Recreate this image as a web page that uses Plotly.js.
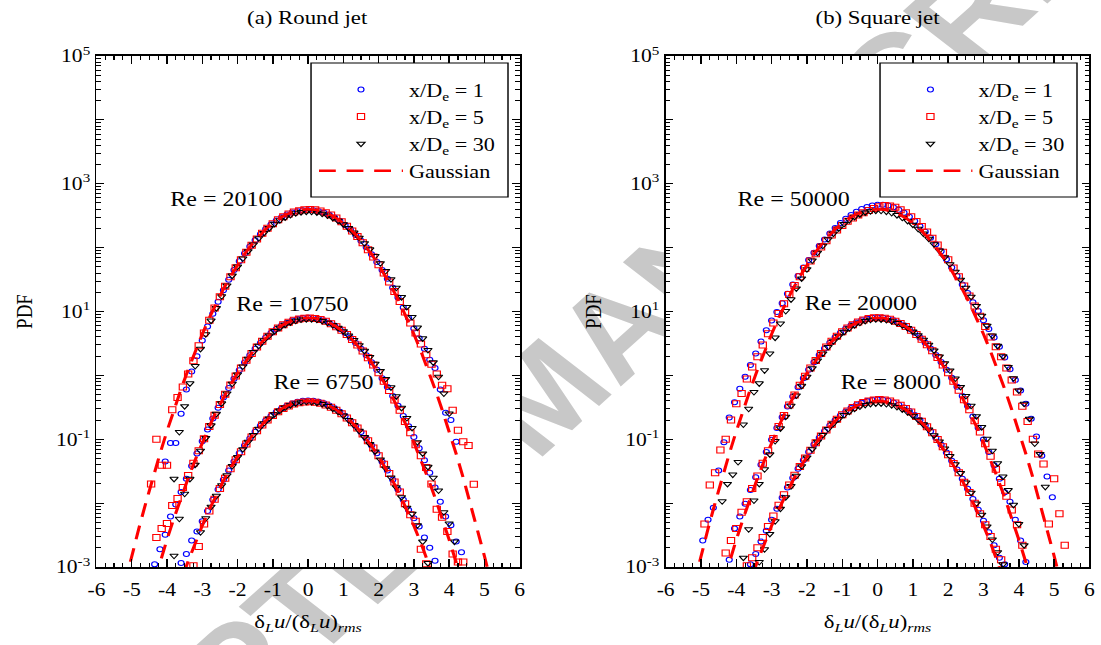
<!DOCTYPE html>
<html>
<head>
<meta charset="utf-8">
<script src="https://cdn.plot.ly/plotly-3.0.1.min.js"></script>
<style>
html, body { margin: 0; padding: 0; background: #fff; overflow: hidden; }
#wrap { position: relative; width: 918px; height: 645px; transform: scaleX(1.19935); transform-origin: 0 0; }
#mark { position: absolute; left: 453px; top: 395px; z-index: 0; white-space: nowrap;
        font: bold 121px "Liberation Sans", Arial, sans-serif; line-height: 1; color: #c8c8c8;
        transform: translate(-50%, -50%) rotate(-47.1deg); }
#chart { position: absolute; left: 0; top: 0; width: 918px; height: 645px; z-index: 1; }
</style>
</head>
<body>
<div id="wrap">
<div id="mark">ACCEPTED MANUSCRIPT</div>
<div id="chart"></div>
</div>
<script>
const _ = null;

// Bin centres of the increment histograms (one set per measurement station)
const bins1 = [-4.95,-4.8,-4.65,-4.5,-4.35,-4.2,-4.05,-3.9,-3.75,-3.6,-3.45,-3.3,-3.15,-3.0,-2.85,-2.7,-2.55,-2.4,-2.25,-2.1,-1.95,-1.8,-1.65,-1.5,-1.35,-1.2,-1.05,-0.9,-0.75,-0.6,-0.45,-0.3,-0.15,0,0.15,0.3,0.45,0.6,0.75,0.9,1.05,1.2,1.35,1.5,1.65,1.8,1.95,2.1,2.25,2.4,2.55,2.7,2.85,3.0,3.15,3.3,3.45,3.6,3.75,3.9,4.05,4.2,4.35,4.5,4.65,4.8,4.95,5.1,5.25,5.4,5.55];
const bins5 = [-4.9,-4.75,-4.6,-4.45,-4.3,-4.15,-4.0,-3.85,-3.7,-3.55,-3.4,-3.25,-3.1,-2.95,-2.8,-2.65,-2.5,-2.35,-2.2,-2.05,-1.9,-1.75,-1.6,-1.45,-1.3,-1.15,-1.0,-0.85,-0.7,-0.55,-0.4,-0.25,-0.1,0.05,0.2,0.35,0.5,0.65,0.8,0.95,1.1,1.25,1.4,1.55,1.7,1.85,2.0,2.15,2.3,2.45,2.6,2.75,2.9,3.05,3.2,3.35,3.5,3.65,3.8,3.95,4.1,4.25,4.4,4.55,4.7,4.85,5.0,5.15,5.3,5.45,5.6];
const bins30 = [-4.85,-4.7,-4.55,-4.4,-4.25,-4.1,-3.95,-3.8,-3.65,-3.5,-3.35,-3.2,-3.05,-2.9,-2.75,-2.6,-2.45,-2.3,-2.15,-2.0,-1.85,-1.7,-1.55,-1.4,-1.25,-1.1,-0.95,-0.8,-0.65,-0.5,-0.35,-0.2,-0.05,0.1,0.25,0.4,0.55,0.7,0.85,1.0,1.15,1.3,1.45,1.6,1.75,1.9,2.05,2.2,2.35,2.5,2.65,2.8,2.95,3.1,3.25,3.4,3.55,3.7,3.85,4.0,4.15,4.3,4.45,4.6,4.75,4.9,5.05,5.2,5.35,5.5,5.65];

// (a) Round jet, Re = 6750 (unshifted)
const pdfA_6750_1 = [_,_,_,_,_,_,_,_,_,
 0.00115,0.0016,0.0026,0.0036,0.0052,0.0075,0.0113,0.0163,0.0232,0.0324,
 0.0448,0.0605,0.0800,0.103,0.131,0.162,0.196,0.232,0.268,0.303,
 0.336,0.364,0.386,0.400,0.405,0.401,0.387,0.366,0.338,0.305,
 0.269,0.232,0.195,0.161,0.130,0.103,0.0797,0.0603,0.0446,0.0324,
 0.0232,0.0163,0.0113,0.0078,0.0058,0.0043,0.0029,0.0020,0.00125,
 _,_,_,_,_,_,_,_,_,_,_,_,_];
const pdfA_6750_5 = [_,_,_,_,_,_,_,_,_,_,_,
 0.00105,0.0021,0.0047,0.0075,0.0115,0.0170,0.0245,0.0345,0.0478,0.0640,
 0.0840,0.108,0.136,0.167,0.200,0.236,0.270,0.303,0.332,0.356,
 0.373,0.383,0.385,0.379,0.365,0.344,0.317,0.285,0.251,0.216,
 0.182,0.150,0.121,0.0950,0.0730,0.0550,0.0405,0.0292,0.0215,0.0150,
 0.0098,0.0066,0.0052,0.0019,0.00112,
 _,_,_,_,_,_,_,_,_,_,_,_,_,_,_];
const pdfA_6750_30 = [_,_,_,_,_,_,_,_,_,_,_,_,
 0.0035,0.0058,0.0088,0.0130,0.0190,0.0272,0.0382,0.0525,0.0700,0.0915,
 0.117,0.146,0.178,0.212,0.247,0.281,0.314,0.342,0.364,0.379,
 0.386,0.384,0.374,0.356,0.332,0.302,0.269,0.235,0.200,0.167,
 0.136,0.108,0.0845,0.0645,0.0482,0.0352,0.0252,0.0178,0.0124,0.0085,
 0.0068,0.0045,0.0025,0.00115,
 _,_,_,_,_,_,_,_,_,_,_,_,_,_,_];

// (a) Round jet, Re = 10750 (shifted by 20)
const pdfA_10750_1 = [_,_,_,_,
 0.0011,0.0019,0.0032,0.0062,0.0095,0.0150,0.024,0.038,0.060,0.093,
 0.142,0.212,0.310,0.450,0.635,0.885,1.20,1.59,2.06,2.60,
 3.22,3.90,4.62,5.34,6.04,6.68,7.22,7.64,7.90,7.98,
 7.90,7.63,7.20,6.65,6.01,5.31,4.60,3.89,3.22,2.61,
 2.07,1.61,1.22,0.905,0.66,0.475,0.335,0.232,0.160,0.108,
 0.072,0.047,0.030,0.0175,0.0105,0.0062,0.0045,0.0025,0.0017,
 _,_,_,_,_,_,_,_];
const pdfA_10750_5 = [_,_,_,_,
 0.0029,0.0040,0.0048,0.0092,0.0118,0.0175,0.0270,0.0420,0.066,0.102,
 0.158,0.238,0.350,0.505,0.71,0.98,1.31,1.72,2.21,2.78,
 3.42,4.10,4.82,5.53,6.20,6.80,7.30,7.66,7.86,7.92,
 7.80,7.48,7.02,6.44,5.78,5.08,4.36,3.66,3.00,2.41,
 1.89,1.46,1.10,0.81,0.58,0.41,0.285,0.190,0.126,0.082,
 0.055,0.036,0.0200,0.0080,0.0060,0.0036,0.0016,0.0012,0.0012,
 _,_,_,_,_,_,_,_];
const pdfA_10750_30 = [_,_,_,_,_,_,_,
 0.0015,0.0057,0.0140,0.024,0.040,0.066,0.105,0.165,0.250,0.365,
 0.52,0.74,1.03,1.38,1.82,2.32,2.90,3.55,4.22,4.93,
 5.60,6.22,6.75,7.18,7.48,7.60,7.58,7.42,7.10,6.68,
 6.15,5.55,4.90,4.22,3.58,2.97,2.42,1.94,1.52,1.17,
 0.88,0.65,0.47,0.31,0.215,0.150,0.090,0.060,0.037,0.025,
 0.0158,0.0072,0.0048,0.0025,
 _,_,_,_,_,_,_,_,_,_];

// (a) Round jet, Re = 20100 (shifted by 1000)
const pdfA_20100_1 = [_,_,_,_,_,_,
 0.045,0.087,0.087,0.25,0.60,1.15,2.0,3.5,5.8,9.2,
 14.2,21.5,31.5,44.5,61,81,104,131,162,196,
 231,266,299,329,354,372,383,386,383,372,
 353,327,297,263,227,192,158,128,101,78.5,
 59.5,44.5,32.5,23.5,16.5,11.5,7.9,5.4,3.8,2.6,
 1.75,1.3,0.6,0.26,0.20,0.091,
 _,_,_,_,_,_,_,_,_];
const pdfA_20100_5 = [_,_,_,
 0.020,0.100,0.039,0.039,0.29,0.45,0.66,1.05,1.7,2.9,
 4.6,7.3,11.3,17.0,24.8,35.0,48.5,64.5,85,109,
 137,168,201,237,272,305,335,360,378,390,
 395,390,376,353,324,290,254,217,182,149,
 119,93,71.5,54,40,29,20.5,14.3,9.8,6.6,
 4.6,3.1,2.1,1.5,1.05,0.70,0.62,0.285,0.138,0.091,
 0.080,0.0197,
 _,_,_,_,_,_];
const pdfA_20100_30 = [_,_,_,_,_,_,_,
 0.024,0.13,0.33,0.75,1.4,2.6,4.4,7.2,11.3,17.3,
 25.5,36.5,50.5,67.5,88,112,140,170,202,236,
 268,298,325,346,360,366,364,356,340,318,
 292,263,233,202,172,143,117,94,74,57,
 43,32,23.5,16.8,11.8,8.2,5.6,3.8,2.5,1.6,
 0.95,0.52,0.253,
 _,_,_,_,_,_,_,_,_,_,_];

// (b) Square jet, Re = 8000 (unshifted)
const pdfB_8000_1 = [_,_,_,_,_,_,_,_,_,
 0.0011,0.0016,0.0025,0.0037,0.0055,0.0082,0.0121,0.0175,0.0248,0.0345,
 0.0470,0.0630,0.0825,0.106,0.133,0.164,0.198,0.235,0.272,0.308,
 0.342,0.372,0.396,0.412,0.418,0.414,0.400,0.377,0.348,0.314,
 0.277,0.239,0.201,0.166,0.134,0.106,0.0820,0.0620,0.0460,0.0335,
 0.0240,0.0168,0.0116,0.0079,0.0053,0.0035,0.0022,0.0014,0.0011,
 _,_,_,_,_,_,_,_,_,_,_,_,_];
const pdfB_8000_5 = [_,_,_,_,_,_,_,_,
 0.00105,0.0014,0.0020,0.0029,0.0043,0.0063,0.0093,0.0135,0.0193,0.0272,
 0.0375,0.0508,0.0675,0.0880,0.112,0.140,0.171,0.205,0.241,0.278,
 0.314,0.347,0.376,0.398,0.412,0.418,0.412,0.396,0.371,0.340,
 0.304,0.266,0.228,0.191,0.157,0.126,0.0990,0.0760,0.0570,0.0418,
 0.0300,0.0212,0.0147,0.0100,0.0068,0.0046,0.0030,0.0019,0.0013,
 _,_,_,_,_,_,_,_,_,_,_,_,_,_];
const pdfB_8000_30 = [_,_,_,_,_,_,_,_,_,_,
 0.0012,0.0019,0.0033,0.0052,0.0082,0.0124,0.0185,0.0268,0.0378,0.0520,
 0.0700,0.0915,0.117,0.145,0.176,0.208,0.240,0.271,0.300,0.325,
 0.345,0.358,0.365,0.364,0.356,0.341,0.320,0.294,0.265,0.234,
 0.202,0.171,0.142,0.115,0.0920,0.0715,0.0545,0.0405,0.0295,0.0210,
 0.0146,0.0099,0.0066,0.0043,0.0027,0.0017,0.0011,
 _,_,_,_,_,_,_,_,_,_,_,_,_,_];

// (b) Square jet, Re = 20000 (shifted by 20)
const pdfB_20000_1 = [_,_,_,_,_,
 0.0013,0.0040,0.0062,0.0098,0.0160,0.0255,0.040,0.063,0.098,0.150,
 0.222,0.325,0.465,0.650,0.90,1.22,1.61,2.08,2.63,3.25,
 3.94,4.66,5.40,6.10,6.75,7.30,7.72,7.98,8.06,7.98,
 7.71,7.28,6.72,6.07,5.37,4.64,3.93,3.25,2.64,2.09,
 1.62,1.23,0.915,0.665,0.475,0.332,0.228,0.152,0.099,0.063,
 0.039,0.024,0.0148,0.0105,0.0055,0.0026,0.0012,
 _,_,_,_,_,_,_,_,_];
const pdfB_20000_5 = [_,_,_,_,
 0.00165,0.0026,0.0040,0.0072,0.0105,0.0170,0.0265,0.042,0.066,0.103,
 0.158,0.235,0.345,0.495,0.70,0.965,1.30,1.71,2.20,2.77,
 3.41,4.10,4.82,5.54,6.22,6.84,7.36,7.74,7.96,8.00,
 7.86,7.53,7.06,6.47,5.80,5.09,4.37,3.67,3.01,2.42,
 1.90,1.46,1.10,0.81,0.585,0.415,0.29,0.195,0.130,0.085,
 0.054,0.034,0.021,0.0128,0.0078,0.0046,0.0022,
 _,_,_,_,_,_,_,_,_,_];
const pdfB_20000_30 = [_,_,_,_,_,_,_,
 0.0014,0.0039,0.0110,0.0200,0.034,0.058,0.094,0.148,0.226,0.335,
 0.485,0.685,0.95,1.29,1.71,2.21,2.78,3.42,4.10,4.80,
 5.48,6.12,6.68,7.12,7.42,7.55,7.52,7.35,7.04,6.62,
 6.10,5.52,4.88,4.24,3.61,3.01,2.46,1.97,1.55,1.19,
 0.895,0.66,0.475,0.335,0.230,0.155,0.102,0.066,0.042,0.026,
 0.016,0.0094,0.0047,0.0022,
 _,_,_,_,_,_,_,_,_,_];

// (b) Square jet, Re = 50000 (shifted by 1000)
const pdfB_50000_1 = [
 0.0026,0.0055,0.0085,0.0325,0.090,0.22,0.38,0.62,0.95,1.45,
 2.2,3.4,5.1,7.2,9.8,13.5,19,26.5,36,49,
 64,83,106,134,166,202,242,283,325,365,
 402,433,457,470,470,455,428,392,350,305,
 260,217,178,143,113,88,66,49,36,26.5,
 19.5,14.0,10.2,7.3,5.3,3.9,2.8,1.9,1.25,0.85,
 0.58,0.36,0.21,0.11,0.055,0.026,0.0124,
 _,_,_,_];
const pdfB_50000_5 = [
 0.0047,0.0193,0.030,0.068,0.10,0.20,0.36,0.52,0.88,1.35,
 1.95,3.0,4.5,6.6,9.3,13.2,18.5,25.5,35,47,
 62,80,102,128,157,189,223,258,292,324,
 352,380,410,438,455,450,428,392,350,303,
 257,214,175,140,110,85,64.5,48,35,25,
 17.5,12.2,8.4,5.8,4.0,2.8,1.95,1.3,0.85,0.55,
 0.33,0.19,0.10,0.059,0.041,0.0047,0.024,0.0068,0.0022,
 _,_];
const pdfB_50000_30 = [_,_,_,
 0.0107,0.020,0.028,0.044,0.17,0.30,0.55,0.75,1.2,2.2,
 3.9,6.5,10.2,15.5,23,33,46,63,83,107,
 135,166,200,235,270,303,332,356,372,380,
 378,367,348,323,294,262,229,197,166,138,
 113,90,71,55,42,31.5,23.5,17.0,12.2,8.6,
 6.0,4.2,2.9,2.0,1.35,0.90,0.58,0.36,0.21,0.086,
 0.059,0.018,
 _,_,_,_,_,_];

// Reference Gaussian PDF, shifted by 1, 20 and 1000
const gaussX = [-5.2,-5.0,-4.8,-4.6,-4.4,-4.2,-4.0,-3.8,-3.6,-3.4,-3.2,-3.0,-2.8,-2.6,-2.4,-2.2,-2.0,-1.8,-1.6,-1.4,-1.2,-1.0,-0.8,-0.6,-0.4,-0.2,0,0.2,0.4,0.6,0.8,1.0,1.2,1.4,1.6,1.8,2.0,2.2,2.4,2.6,2.8,3.0,3.2,3.4,3.6,3.8,4.0,4.2,4.4,4.6,4.8,5.0,5.2];
const gaussLow = [5.35e-7,1.49e-6,3.96e-6,1.01e-5,2.49e-5,5.89e-5,1.34e-4,2.92e-4,6.12e-4,1.23e-3,2.38e-3,4.43e-3,7.92e-3,0.0136,0.0224,0.0355,0.0540,0.0790,0.1109,0.1497,0.1942,0.2420,0.2897,0.3332,0.3683,0.3910,0.3989,0.3910,0.3683,0.3332,0.2897,0.2420,0.1942,0.1497,0.1109,0.0790,0.0540,0.0355,0.0224,0.0136,7.92e-3,4.43e-3,2.38e-3,1.23e-3,6.12e-4,2.92e-4,1.34e-4,5.89e-5,2.49e-5,1.01e-5,3.96e-6,1.49e-6,5.35e-7];
const gaussMid = [1.07e-5,2.97e-5,7.92e-5,2.02e-4,4.98e-4,1.18e-3,2.68e-3,5.84e-3,0.01224,0.0246,0.0476,0.0886,0.158,0.272,0.448,0.710,1.080,1.580,2.218,2.994,3.884,4.840,5.794,6.664,7.366,7.820,7.978,7.820,7.366,6.664,5.794,4.840,3.884,2.994,2.218,1.580,1.080,0.710,0.448,0.272,0.158,0.0886,0.0476,0.0246,0.01224,5.84e-3,2.68e-3,1.18e-3,4.98e-4,2.02e-4,7.92e-5,2.97e-5,1.07e-5];
const gaussTop = [5.35e-4,1.49e-3,3.96e-3,0.0101,0.0249,0.0589,0.134,0.292,0.612,1.23,2.38,4.43,7.92,13.6,22.4,35.5,54.0,79.0,110.9,149.7,194.2,242.0,289.7,333.2,368.3,391.0,398.9,391.0,368.3,333.2,289.7,242.0,194.2,149.7,110.9,79.0,54.0,35.5,22.4,13.6,7.92,4.43,2.38,1.23,0.612,0.292,0.134,0.0589,0.0249,0.0101,3.96e-3,1.49e-3,5.35e-4];

// Tick labels
const xTickVals = [-6,-5,-4,-3,-2,-1,0,1,2,3,4,5,6];
const xTickText = ['-6','-5','-4','-3','-2','-1','0','1','2','3','4','5','6'];
const yTickVals = [1e-3,1e-2,1e-1,1,10,100,1e3,1e4,1e5];
const yTickText = ['10<sup>-3</sup>','','10<sup>-1</sup>','','10<sup>1</sup>','','10<sup>3</sup>','','10<sup>5</sup>'];

// Reynolds-number labels: [text, x, log10(y)]
const reLabelsA = [['Re = 20100', -2.32, 2.765], ['Re = 10750', -0.43, 1.118], ['Re = 6750', 0.445, -0.101]];
const reLabelsB = [['Re = 50000', -2.36, 2.76], ['Re = 20000', -0.48, 1.13], ['Re = 8000', 0.39, -0.101]];

const FONT = 'Liberation Serif, Times New Roman, serif';
const styles = {
  s1:  {name: 'x/D<sub>e</sub> = 1',  symbol: 'circle-open',        color: '#0000ff', size: 5},
  s5:  {name: 'x/D<sub>e</sub> = 5',  symbol: 'square-open',        color: '#ff0000', size: 6},
  s30: {name: 'x/D<sub>e</sub> = 30', symbol: 'triangle-down-open', color: '#000000', size: 6}
};

function markers(x, y, st, xa, ya, leg, show) {
  return {type: 'scatter', mode: 'markers', x: x, y: y, name: st.name,
    xaxis: xa, yaxis: ya, legend: leg, showlegend: show, hoverinfo: 'skip',
    marker: {symbol: st.symbol, color: st.color, size: st.size, line: {width: 1, color: st.color}}};
}
function gaussLine(y, xa, ya, leg, show) {
  return {type: 'scatter', mode: 'lines', x: gaussX, y: y, name: 'Gaussian',
    xaxis: xa, yaxis: ya, legend: leg, showlegend: show, hoverinfo: 'skip',
    line: {color: '#ff0000', width: 2.6, dash: '14px,9px'}};
}

function panelTraces(groups, xa, ya, leg) {
  const out = [];
  groups.forEach((g, i) => {
    out.push(markers(bins1, g[0], styles.s1, xa, ya, leg, i === 0));
    out.push(markers(bins5, g[1], styles.s5, xa, ya, leg, i === 0));
    out.push(markers(bins30, g[2], styles.s30, xa, ya, leg, i === 0));
  });
  out.push(gaussLine(gaussTop, xa, ya, leg, true));
  out.push(gaussLine(gaussMid, xa, ya, leg, false));
  out.push(gaussLine(gaussLow, xa, ya, leg, false));
  return out;
}

const traces = [].concat(
  panelTraces([[pdfA_20100_1, pdfA_20100_5, pdfA_20100_30],
               [pdfA_10750_1, pdfA_10750_5, pdfA_10750_30],
               [pdfA_6750_1, pdfA_6750_5, pdfA_6750_30]], 'x', 'y', 'legend'),
  panelTraces([[pdfB_50000_1, pdfB_50000_5, pdfB_50000_30],
               [pdfB_20000_1, pdfB_20000_5, pdfB_20000_30],
               [pdfB_8000_1, pdfB_8000_5, pdfB_8000_30]], 'x2', 'y2', 'legend2')
);

const minorY = [];
for (let e = -3; e < 5; e++) for (let m = 2; m <= 9; m++) minorY.push(m * Math.pow(10, e));

const xTitle = 'δ<sub><i>L</i></sub><i>u</i>/(δ<sub><i>L</i></sub><i>u</i>)<sub><i>rms</i></sub>';

function xAxis(domain, anchor) {
  return {domain: domain, anchor: anchor, range: [-6, 6], tickmode: 'array',
    tickvals: xTickVals, ticktext: xTickText, ticks: 'inside', ticklen: 8, tickwidth: 1.2,
    tickcolor: '#000', showline: true, linecolor: '#000', linewidth: 1.6, mirror: 'allticks',
    showgrid: false, zeroline: false, ticklabelstandoff: 6,
    tickfont: {family: FONT, size: 18, color: '#000'},
    minor: {tickmode: 'linear', tick0: 0, dtick: 0.25, ticks: 'inside', ticklen: 4,
            tickwidth: 1, tickcolor: '#000', showgrid: false},
    title: {text: xTitle, font: {family: FONT, size: 19, color: '#000'}, standoff: 15},
    automargin: false, fixedrange: true};
}
function yAxis(anchor) {
  return {domain: [0, 1], anchor: anchor, type: 'log', range: [-3, 5], tickmode: 'array',
    tickvals: yTickVals, ticktext: yTickText, ticks: 'inside', ticklen: 6, tickwidth: 1.2,
    tickcolor: '#000', showline: true, linecolor: '#000', linewidth: 1.6, mirror: 'allticks',
    showgrid: false, zeroline: false,
    tickfont: {family: FONT, size: 18, color: '#000'},
    minor: {tickmode: 'array', tickvals: minorY, ticks: 'inside', ticklen: 3.5,
            tickwidth: 1, tickcolor: '#000', showgrid: false},
    title: {text: 'PDF', font: {family: FONT, size: 19, color: '#000'}, standoff: 14},
    automargin: false, fixedrange: true};
}
function legendBox(x) {
  return {x: x, y: 0.9706, xanchor: 'left', yanchor: 'top', bgcolor: 'rgba(0,0,0,0)',
    borderwidth: 0, font: {size: 18.5, family: FONT, color: '#000'},
    itemwidth: 70, tracegroupgap: 0, itemclick: false, itemdoubleclick: false};
}
function frame(x0, x1) {
  return {type: 'rect', xref: 'paper', yref: 'paper', x0: x0, x1: x1, y0: 0.7241, y1: 0.9863,
    line: {color: '#000', width: 1.2}, fillcolor: '#fff', layer: 'above'};
}

const annotations = [
  {xref: 'paper', yref: 'paper', x: 0.2798, y: 1.0744, text: '(a) Round jet', showarrow: false,
   xanchor: 'center', yanchor: 'middle', font: {size: 19}},
  {xref: 'paper', yref: 'paper', x: 0.7971, y: 1.0744, text: '(b) Square jet', showarrow: false,
   xanchor: 'center', yanchor: 'middle', font: {size: 19}}
];
reLabelsA.forEach(l => annotations.push({xref: 'x', yref: 'y', x: l[1], y: l[2], text: l[0],
  showarrow: false, xanchor: 'center', yanchor: 'middle', font: {size: 20}}));
reLabelsB.forEach(l => annotations.push({xref: 'x2', yref: 'y2', x: l[1], y: l[2], text: l[0],
  showarrow: false, xanchor: 'center', yanchor: 'middle', font: {size: 20}}));

const layout = {
  width: 918, height: 645,
  margin: {l: 0, r: 0, t: 56, b: 78},
  paper_bgcolor: 'rgba(0,0,0,0)', plot_bgcolor: '#fff',
  font: {family: FONT, size: 18, color: '#000'},
  showlegend: true,
  xaxis: xAxis([0.0876, 0.4720], 'y'),
  yaxis: yAxis('x'),
  xaxis2: xAxis([0.6046, 0.9895], 'y2'),
  yaxis2: yAxis('x2'),
  legend: legendBox(0.2843),
  legend2: legendBox(0.8015),
  shapes: [frame(0.2825, 0.4614), frame(0.7993, 0.9782)],
  annotations: annotations
};

Plotly.newPlot('chart', traces, layout, {displayModeBar: false, staticPlot: true});
</script>
</body>
</html>
